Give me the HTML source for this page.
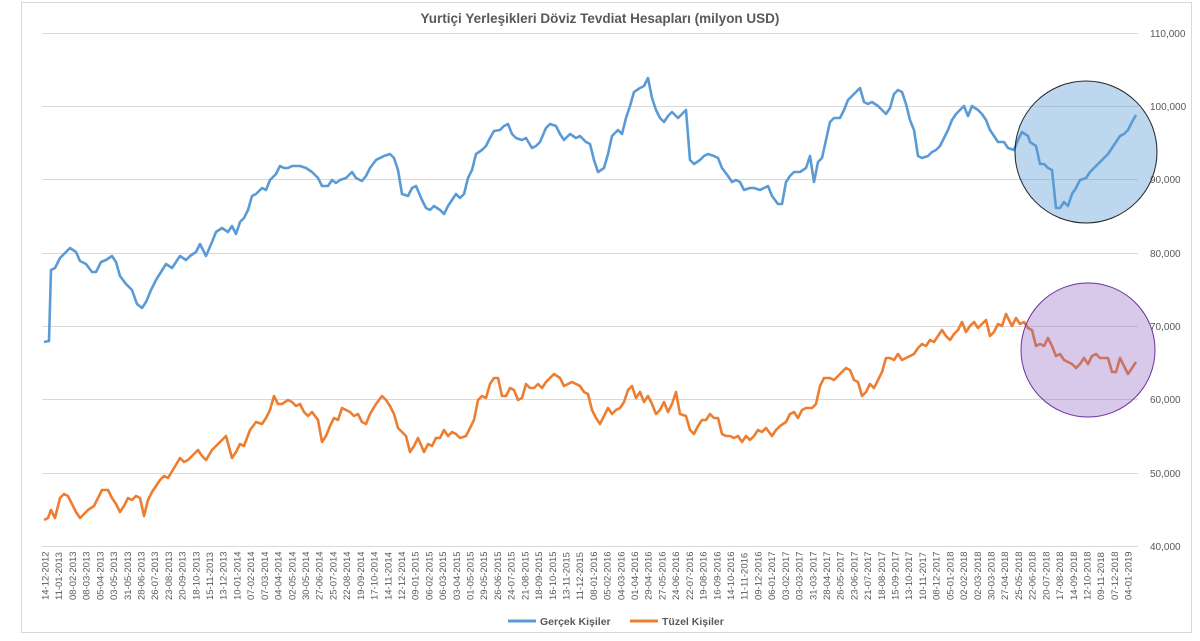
<!DOCTYPE html>
<html><head><meta charset="utf-8"><style>
body{margin:0;background:#fff;}
svg{display:block;font-family:"Liberation Sans",sans-serif;}
</style></head><body>
<svg width="1200" height="641" viewBox="0 0 1200 641">
<rect x="21.5" y="2.5" width="1170" height="630" fill="#fff" stroke="#d9d9d9"/>
<text x="600" y="23" text-anchor="middle" font-size="13.5" font-weight="bold" fill="#595959">Yurtiçi Yerleşikleri Döviz Tevdiat Hesapları (milyon USD)</text>
<g stroke="#d9d9d9" stroke-width="1">
<line x1="42" x2="1138" y1="33.5" y2="33.5"/><line x1="42" x2="1138" y1="106.5" y2="106.5"/>
<line x1="42" x2="1138" y1="179.5" y2="179.5"/><line x1="42" x2="1138" y1="253.5" y2="253.5"/>
<line x1="42" x2="1138" y1="326.5" y2="326.5"/><line x1="42" x2="1138" y1="399.5" y2="399.5"/>
<line x1="42" x2="1138" y1="473.5" y2="473.5"/><line x1="42" x2="1138" y1="546.5" y2="546.5"/>
</g>
<g font-size="10" fill="#595959">
<text x="1150" y="37">110,000</text><text x="1150" y="110">100,000</text><text x="1150" y="183">90,000</text>
<text x="1150" y="257">80,000</text><text x="1150" y="330">70,000</text><text x="1150" y="403">60,000</text>
<text x="1150" y="477">50,000</text><text x="1150" y="550">40,000</text>
</g>
<g id="ticks" font-size="9.5" fill="#595959"></g>
<polyline fill="none" stroke="#5b9bd5" stroke-width="2.6" stroke-linejoin="round" points="44,342 49,341 51,270 55,268 60,258 66,252 70,248 76,252 80,261 86,264 92,272 96,272 101,262 106,260 112,256 116,262 120,276 126,284 132,290 137,304 142,308 146,302 151,290 156,280 161,272 166,264 172,268 176,262 180,256 186,260 190,256 196,252 200,244 206,256 212,242 216,232 222,228 228,232 232,226 236,234 240,222 244,218 248,210 252,196 256,194 262,188 266,190 270,180 276,174 280,166 284,168 288,168 292,166 300,166 306,168 312,172 318,178 322,186 328,186 332,180 336,183 340,180 346,178 352,172 356,178 362,181 366,176 370,168 376,160 380,158 384,156 390,154 394,158 398,170 402,194 408,196 412,188 416,186 422,200 426,208 430,210 434,206 440,210 444,214 448,206 452,200 456,194 460,198 464,194 468,178 472,170 476,154 482,150 486,146 490,138 494,131 500,130 504,126 508,124 512,134 516,138 522,140 526,138 532,148 536,146 540,142 546,128 550,124 556,126 560,134 564,140 570,134 576,138 580,136 586,142 590,144 594,160 598,172 604,168 608,154 612,136 618,130 622,134 626,118 630,106 634,92 640,88 644,86 648,78 652,98 656,110 660,118 664,122 668,116 672,112 678,118 682,114 686,110 690,160 694,164 700,160 704,156 708,154 714,156 718,158 722,168 728,176 732,182 736,180 740,182 744,190 750,188 754,188 760,190 764,188 768,186 772,196 778,204 782,204 786,182 790,176 794,172 800,172 806,168 810,156 814,182 818,162 822,158 826,140 830,122 834,118 840,118 844,110 848,100 852,96 856,92 860,88 864,102 868,104 872,102 878,106 882,110 886,114 890,108 894,94 898,90 902,92 906,104 910,120 914,130 918,156 922,158 928,156 932,152 936,150 940,146 944,138 948,130 952,120 956,114 960,110 964,106 968,116 972,106 978,110 982,114 986,120 990,130 994,136 998,142 1004,142 1008,148 1014,150 1018,140 1022,132 1028,136 1030,142 1036,146 1040,164 1044,164 1048,168 1052,170 1056,208 1060,208 1064,202 1068,206 1072,194 1076,188 1080,180 1086,178 1090,172 1094,168 1100,162 1104,158 1108,154 1112,148 1116,142 1120,136 1124,134 1128,130 1132,122 1136,115"/>
<polyline fill="none" stroke="#ed7d31" stroke-width="2.6" stroke-linejoin="round" points="44,520 48,518 51,510 55,518 60,498 64,494 68,496 72,504 76,512 80,518 84,514 88,510 94,506 98,498 102,490 108,490 112,498 116,504 120,512 124,506 128,498 132,500 136,496 140,498 144,516 148,500 152,492 156,486 160,480 164,476 168,478 174,468 180,458 184,462 188,460 192,456 198,450 202,456 206,460 212,450 216,446 220,442 226,436 232,458 236,452 240,444 244,446 250,430 256,422 262,424 266,418 270,410 274,396 278,404 282,404 288,400 292,402 296,406 300,404 304,412 308,416 312,412 318,420 322,442 326,436 330,426 334,418 338,420 342,408 346,410 350,412 354,416 358,414 362,422 366,424 370,414 376,404 382,396 386,400 390,406 394,414 398,428 402,432 406,436 410,452 414,446 418,438 424,452 428,444 432,446 436,438 440,438 444,430 448,436 452,432 456,434 460,438 466,436 470,428 474,420 478,400 482,396 486,398 490,384 494,378 498,378 502,396 506,396 510,388 514,390 518,400 522,398 526,384 530,388 534,388 538,384 542,388 546,382 550,378 554,374 560,378 564,386 568,384 572,382 576,384 580,386 584,392 588,394 592,410 596,418 600,424 604,416 608,408 612,414 616,410 620,408 624,402 628,390 632,386 636,398 640,392 644,402 648,396 652,404 656,414 660,410 664,402 668,412 672,404 676,392 680,414 686,416 690,430 694,434 698,426 702,420 706,420 710,414 714,418 718,418 722,434 726,436 730,436 734,438 738,436 742,442 746,436 750,440 754,436 758,430 762,432 766,428 772,436 776,430 780,426 786,422 790,414 794,412 798,418 802,410 806,408 812,408 816,404 820,386 824,378 830,378 834,380 838,376 842,372 846,368 850,370 854,380 858,382 862,396 866,392 870,384 874,388 878,380 882,372 886,358 890,358 894,360 898,354 902,360 906,358 910,356 914,354 918,348 922,344 926,346 930,340 934,342 938,336 942,330 946,336 950,340 954,334 958,330 962,322 966,332 970,326 974,322 978,328 982,324 986,320 990,336 994,332 998,324 1002,326 1006,314 1012,326 1016,318 1020,324 1024,322 1028,328 1032,330 1036,346 1040,344 1044,346 1048,338 1052,346 1056,356 1060,354 1064,360 1068,362 1072,364 1076,368 1080,364 1084,358 1088,364 1092,356 1096,354 1100,358 1104,358 1108,358 1112,372 1116,372 1120,358 1124,366 1128,374 1132,368 1136,362"/>
<circle cx="1086" cy="152" r="71" fill="#5a9bd4" fill-opacity="0.4" stroke="#222" stroke-width="1"/>
<circle cx="1088" cy="350" r="67" fill="#9060c0" fill-opacity="0.35" stroke="#7030a0" stroke-width="1"/>
<g font-size="10.5" font-weight="bold" fill="#595959">
<line x1="508" x2="536" y1="621" y2="621" stroke="#5b9bd5" stroke-width="3"/>
<text x="540" y="625">Gerçek Kişiler</text>
<line x1="630" x2="658" y1="621" y2="621" stroke="#ed7d31" stroke-width="3"/>
<text x="662" y="625">Tüzel Kişiler</text>
</g>
<script>
(function(){
var g=document.getElementById('ticks');var ns='http://www.w3.org/2000/svg';
var d=new Date(Date.UTC(2012,11,14));
for(var i=0;i<80;i++){
var t=new Date(d.getTime()+i*28*86400000);
var s=('0'+t.getUTCDate()).slice(-2)+'-'+('0'+(t.getUTCMonth()+1)).slice(-2)+'-'+t.getUTCFullYear();
var x=45+i*13.71+3.5;
var e=document.createElementNS(ns,'text');
e.setAttribute('transform','translate('+x+',600) rotate(-90)');
e.textContent=s;g.appendChild(e);}
})();
</script>
</svg>
</body></html>
